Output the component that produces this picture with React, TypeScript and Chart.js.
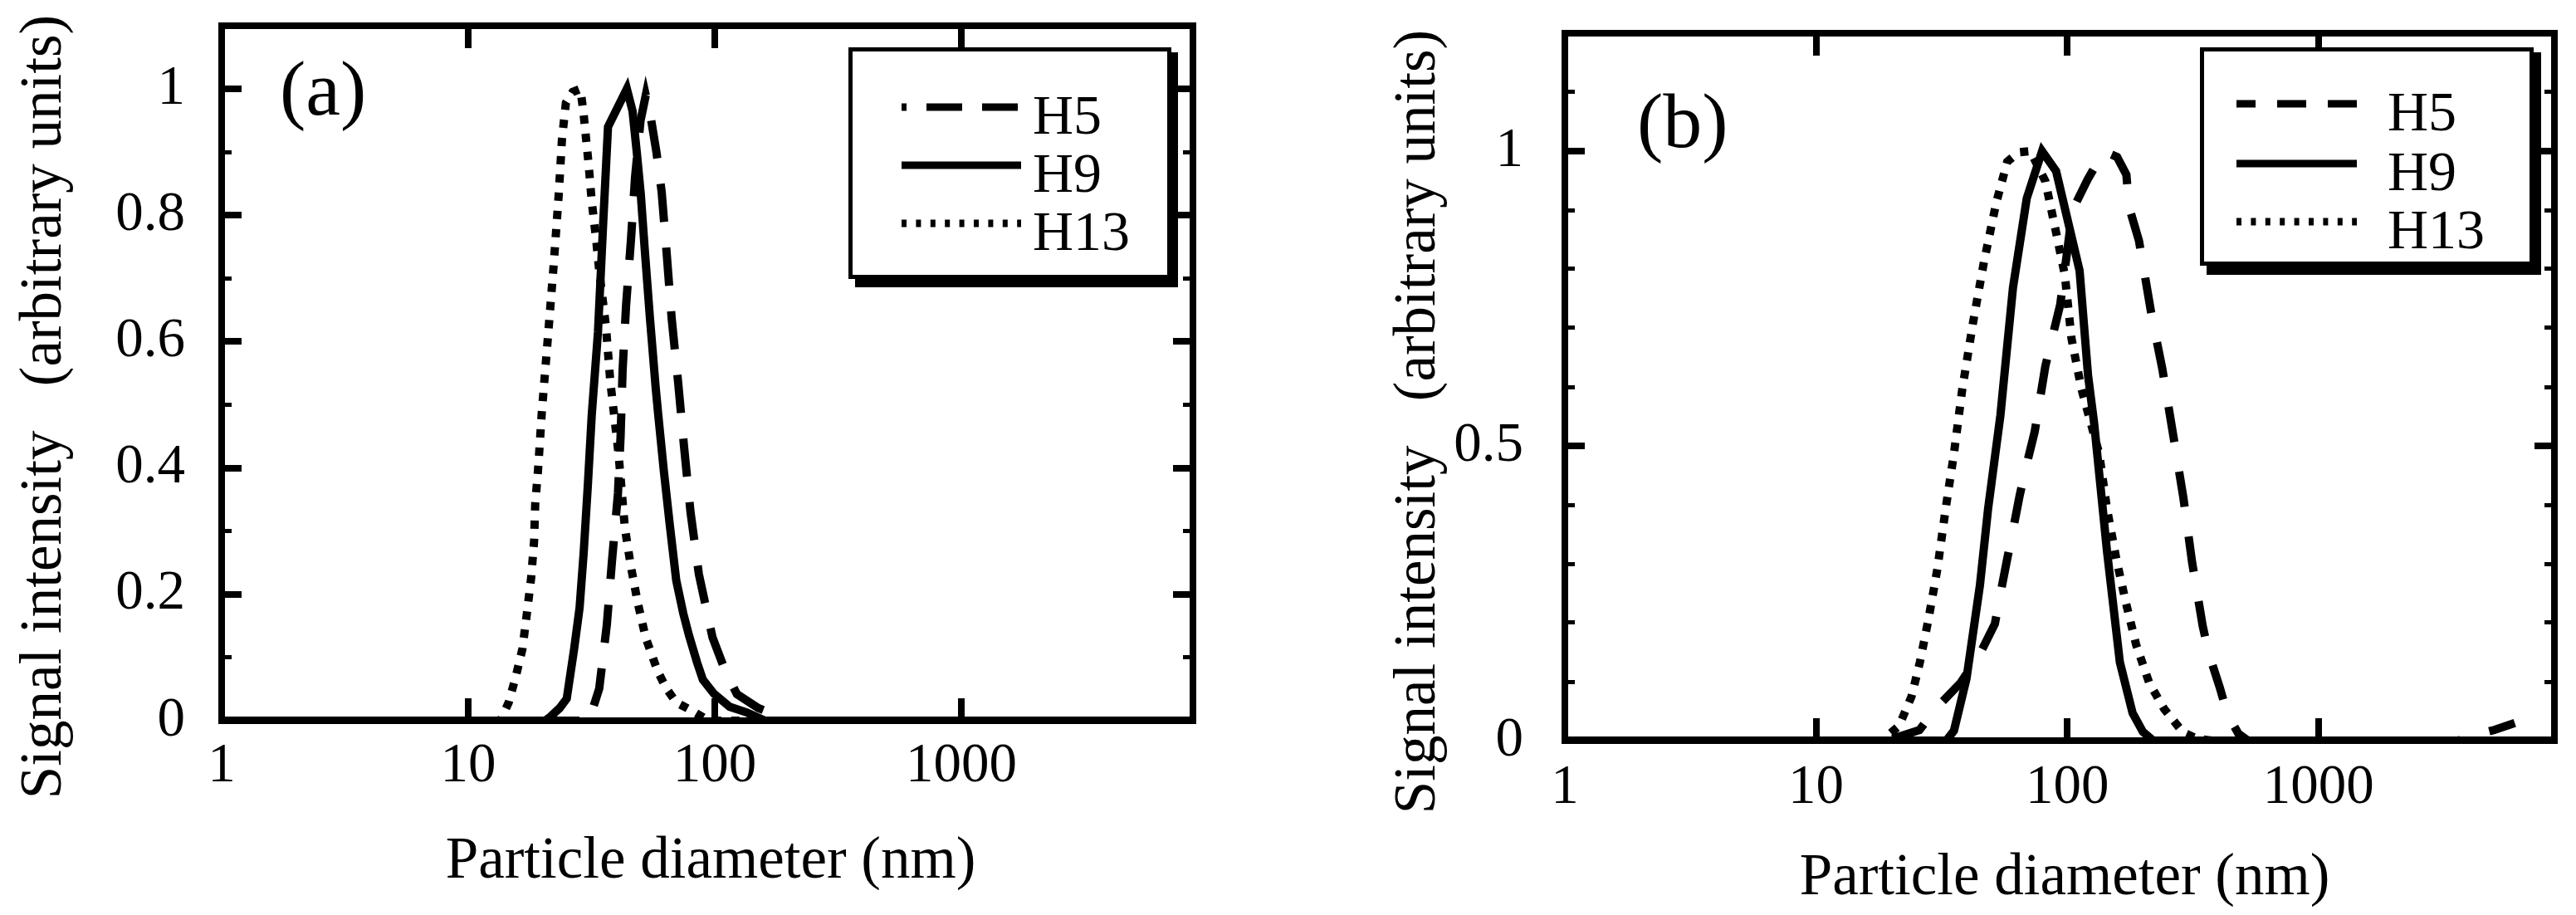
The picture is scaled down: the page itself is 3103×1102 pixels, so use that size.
import React, { useEffect, useRef } from 'react';
import { Chart, registerables } from 'chart.js';

Chart.register(...registerables);

// ---------- shared text / ticks ----------
const SERIES_LABELS = ['H5', 'H9', 'H13'];
const X_TITLE = 'Particle diameter (nm)';
const Y_TITLE = 'Signal intensity   (arbitrary units)';
const X_MIN = 1;
const X_MAX = 8700;
const X_TICKS = [1, 10, 100, 1000];
const X_TOP_TICKS = [10, 100, 1000];

// ---------- panel (a) data ----------
const A_H5_X = [1, 31, 32.2, 34.0, 36.5, 38.3, 40.5, 41.5, 42.3, 43.7, 45.7, 47.5, 50, 52.5, 55, 58, 60.9, 63.9, 66.9, 71.1, 75.1, 79.7, 86.2, 97.9, 110, 123, 150, 175, 195, 8700];
const A_H5_Y = [0, 0, 0.022, 0.051, 0.152, 0.253, 0.36, 0.45, 0.556, 0.658, 0.76, 0.86, 0.95, 0.99, 0.955, 0.9, 0.837, 0.737, 0.636, 0.534, 0.433, 0.331, 0.232, 0.132, 0.08, 0.042, 0.02, 0.01, 0, 0];
const A_H9_X = [1, 20.5, 21.5, 23.5, 25.1, 26.9, 28.3, 29.4, 30.6, 31.7, 33.6, 35.3, 36.9, 44, 46.4, 48.3, 50.1, 52.0, 54.6, 57.6, 59, 62.1, 65.7, 69.8, 74.5, 78.6, 84.8, 89.5, 99.1, 115, 135, 160, 8700];
const A_H9_Y = [0, 0, 0.006, 0.02, 0.035, 0.114, 0.179, 0.266, 0.376, 0.484, 0.615, 0.79, 0.94, 1.0, 0.965, 0.899, 0.834, 0.746, 0.637, 0.527, 0.484, 0.397, 0.31, 0.222, 0.17, 0.135, 0.092, 0.065, 0.043, 0.022, 0.013, 0, 0];
const A_H13_X = [1, 13.5, 14.6, 15.6, 16.6, 17.3, 18.0, 18.5, 18.7, 19.2, 19.9, 21.0, 22.2, 23.3, 24.0, 24.9, 26.5, 28.5, 29.3, 30.8, 31.7, 33.0, 34.1, 36.2, 37.7, 40.7, 43.2, 45.6, 48.7, 52.5, 58.6, 63.4, 69.8, 80.6, 90, 100, 8700];
const A_H13_Y = [0, 0, 0.029, 0.07, 0.114, 0.17, 0.226, 0.284, 0.344, 0.397, 0.49, 0.602, 0.72, 0.834, 0.92, 0.978, 0.995, 1.0, 0.965, 0.88, 0.822, 0.763, 0.707, 0.624, 0.537, 0.423, 0.305, 0.246, 0.187, 0.131, 0.079, 0.052, 0.029, 0.016, 0.005, 0, 0];
const A_Y_MAX = 1.1;
const A_Y_MAJOR = [0, 0.2, 0.4, 0.6, 0.8, 1];
const A_Y_LABELS = ['0', '0.2', '0.4', '0.6', '0.8', '1'];
const A_Y_MINOR = [0.1, 0.3, 0.5, 0.7, 0.9];

// ---------- panel (b) data ----------
const B_H5_X = [1, 19.1, 25.8, 29.9, 37.6, 44.9, 51.5, 54.2, 57.6, 60.8, 64.6, 68.7, 74.2, 81.8, 93.8, 105, 120.6, 140, 158, 172, 176, 193, 217, 239, 264, 290, 314, 346, 366, 405, 435, 480, 525, 3600, 4050, 5000, 6050];
const B_H5_Y = [0, 0, 0.018, 0.054, 0.098, 0.147, 0.198, 0.249, 0.307, 0.357, 0.415, 0.466, 0.524, 0.635, 0.74, 0.9, 0.952, 1.0, 0.99, 0.96, 0.906, 0.848, 0.72, 0.631, 0.519, 0.412, 0.303, 0.195, 0.148, 0.09, 0.044, 0.012, 0, 0, 0.008, 0.018, 0.03];
const B_H9_X = [1, 33, 35.4, 39.7, 44.9, 48.4, 54.2, 60.8, 69, 79.4, 90.3, 112, 121, 128, 144, 162, 182, 200, 220, 8700];
const B_H9_Y = [0, 0, 0.017, 0.105, 0.263, 0.393, 0.552, 0.768, 0.92, 1.0, 0.966, 0.797, 0.62, 0.538, 0.321, 0.133, 0.047, 0.015, 0, 0];
const B_H13_X = [1, 18.3, 21.4, 24.0, 25.9, 28.0, 30.4, 32.8, 35.4, 38.2, 42.2, 46.6, 52.2, 57.7, 64, 71.3, 81.8, 90.3, 97.8, 104, 114, 134, 144, 157, 171, 188, 212, 243, 289, 330, 380, 8700];
const B_H13_Y = [0, 0, 0.025, 0.075, 0.133, 0.205, 0.291, 0.393, 0.487, 0.596, 0.71, 0.812, 0.913, 0.982, 0.998, 1.0, 0.949, 0.862, 0.79, 0.682, 0.596, 0.487, 0.393, 0.307, 0.235, 0.163, 0.098, 0.054, 0.014, 0.003, 0, 0];
const B_Y_MAX = 1.2;
const B_Y_MAJOR = [0, 0.5, 1];
const B_Y_LABELS = ['0', '0.5', '1'];
const B_Y_MINOR = [0.1, 0.2, 0.3, 0.4, 0.6, 0.7, 0.8, 0.9, 1.1];

const SERIF = "'Liberation Serif', 'Times New Roman', serif";
const H = 1102;

type Panel = {
  tag: string;
  canvasX: number;
  canvasW: number;
  area: { left: number; right: number; top: number; bottom: number };
  series: { xs: number[]; ys: number[] }[];
  yMax: number;
  yMajor: number[];
  yLabels: string[];
  yMinor: number[];
  xLabelPad: number;
  yLabelPad: number;
  plotDash: number[][];
  tagPos: [number, number];
  tagSize: number;
  yTitlePos: [number, number];
  xTitlePos: [number, number];
  legend: {
    box: [number, number, number, number];
    shadow: [number, number, number, number];
    rows: number[];
    line: [number, number];
    textX: number;
    dashes: number[][];
    offsets: number[];
  };
};

const PANELS: Panel[] = [
  {
    tag: '(a)',
    canvasX: 0,
    canvasW: 1550,
    area: { left: 267, right: 1437, top: 31, bottom: 868 },
    series: [
      { xs: A_H5_X, ys: A_H5_Y },
      { xs: A_H9_X, ys: A_H9_Y },
      { xs: A_H13_X, ys: A_H13_Y },
    ],
    yMax: A_Y_MAX,
    yMajor: A_Y_MAJOR,
    yLabels: A_Y_LABELS,
    yMinor: A_Y_MINOR,
    xLabelPad: 42,
    yLabelPad: 68,
    plotDash: [[46, 31], [], [10, 12]],
    tagPos: [337, 138],
    tagSize: 94,
    yTitlePos: [73, 490],
    xTitlePos: [856, 1057],
    legend: {
      box: [1022, 57, 1411, 336],
      shadow: [1030, 63, 1419, 346],
      rows: [129, 199, 269],
      line: [1086, 1230],
      textX: 1244,
      dashes: [[43, 24], [], [6, 11.4]],
      offsets: [37, 0, 0],
    },
  },
  {
    tag: '(b)',
    canvasX: 1550,
    canvasW: 1553,
    area: { left: 1885, right: 3077, top: 40, bottom: 892 },
    series: [
      { xs: B_H5_X, ys: B_H5_Y },
      { xs: B_H9_X, ys: B_H9_Y },
      { xs: B_H13_X, ys: B_H13_Y },
    ],
    yMax: B_Y_MAX,
    yMajor: B_Y_MAJOR,
    yLabels: B_Y_LABELS,
    yMinor: B_Y_MINOR,
    xLabelPad: 44,
    yLabelPad: 74,
    plotDash: [[43, 36], [], [10, 12]],
    tagPos: [1972, 177],
    tagSize: 94,
    yTitlePos: [1728, 508],
    xTitlePos: [2487, 1077],
    legend: {
      box: [2650, 57, 3052, 320],
      shadow: [2658, 63, 3061, 331],
      rows: [125, 197, 267],
      line: [2694, 2839],
      textX: 2876,
      dashes: [[35, 26], [], [6, 11.4]],
      offsets: [12, 0, 0],
    },
  },
];

function decorPlugin(p: Panel) {
  return {
    id: 'decor',
    afterDraw(chart: any) {
      const ctx: CanvasRenderingContext2D = chart.ctx;
      const ox = p.canvasX;
      ctx.save();
      ctx.fillStyle = '#000';
      // panel tag
      ctx.font = `${p.tagSize}px ${SERIF}`;
      ctx.textAlign = 'left';
      ctx.textBaseline = 'alphabetic';
      ctx.fillText(p.tag, p.tagPos[0] - ox, p.tagPos[1]);
      // axis titles
      ctx.font = `71px ${SERIF}`;
      ctx.textAlign = 'center';
      ctx.fillText(X_TITLE, p.xTitlePos[0] - ox, p.xTitlePos[1]);
      ctx.save();
      ctx.translate(p.yTitlePos[0] - ox, p.yTitlePos[1]);
      ctx.rotate(-Math.PI / 2);
      ctx.fillText(Y_TITLE, 0, 0);
      ctx.restore();
      // legend
      const L = p.legend;
      const [bx0, by0, bx1, by1] = L.box;
      const [sx0, sy0, sx1, sy1] = L.shadow;
      ctx.fillStyle = '#000';
      ctx.fillRect(sx0 - ox, sy0, sx1 - sx0, sy1 - sy0);
      ctx.fillStyle = '#fff';
      ctx.fillRect(bx0 - ox, by0, bx1 - bx0, by1 - by0);
      ctx.strokeStyle = '#000';
      ctx.lineWidth = 5;
      ctx.strokeRect(bx0 + 2.5 - ox, by0 + 2.5, bx1 - bx0 - 5, by1 - by0 - 5);
      chart.data.datasets.forEach((ds: any, i: number) => {
        const y = L.rows[i];
        ctx.save();
        ctx.strokeStyle = '#000';
        ctx.lineWidth = 9;
        ctx.lineCap = 'butt';
        ctx.setLineDash(L.dashes[i]);
        ctx.lineDashOffset = L.offsets[i];
        ctx.beginPath();
        ctx.moveTo(L.line[0] - ox, y);
        ctx.lineTo(L.line[1] - ox, y);
        ctx.stroke();
        ctx.restore();
        ctx.fillStyle = '#000';
        ctx.font = `68px ${SERIF}`;
        ctx.textAlign = 'left';
        ctx.textBaseline = 'alphabetic';
        ctx.fillText(ds.label, L.textX - ox, y + 32);
      });
      ctx.restore();
    },
  };
}

function buildConfig(p: Panel): any {
  const W = p.canvasW;
  const leftW = p.area.left - p.canvasX;
  const rightPad = W - (p.area.right - p.canvasX);
  const bottomH = H - p.area.bottom;
  const setTicks = (vals: number[]) => (s: any) => {
    s.ticks = vals.map((v) => ({ value: v }));
  };
  const fitTo = (w: number | null, h: number | null) => (s: any) => {
    if (w !== null) s.width = w;
    if (h !== null) s.height = h;
    s.paddingLeft = 0;
    s.paddingRight = 0;
    s.paddingTop = 0;
    s.paddingBottom = 0;
  };
  const grid = (len: number, w: number) => ({
    display: true,
    drawOnChartArea: false,
    drawTicks: true,
    tickLength: -len,
    tickWidth: w,
    tickColor: '#000',
    color: '#000',
    lineWidth: w,
  });
  const noBorder = { display: false };
  const border = { display: true, color: '#000', width: 8 };
  const tickFont = { family: SERIF, size: 67 };

  return {
    type: 'line',
    data: {
      datasets: p.series.map((s, i) => ({
        label: SERIES_LABELS[i],
        data: s.xs.map((x, j) => ({ x, y: s.ys[j] })),
        borderColor: '#000',
        backgroundColor: '#000',
        borderWidth: 10,
        borderDash: p.plotDash[i],
        borderCapStyle: 'butt',
        borderJoinStyle: 'miter',
        pointRadius: 0,
        tension: 0,
        fill: false,
        xAxisID: 'x',
        yAxisID: 'y',
      })),
    },
    options: {
      responsive: false,
      animation: false,
      events: [],
      layout: { padding: { left: 0, top: p.area.top, right: rightPad, bottom: 0 } },
      plugins: { legend: { display: false }, tooltip: { enabled: false }, title: { display: false } },
      scales: {
        x: {
          type: 'logarithmic',
          position: 'bottom',
          min: X_MIN,
          max: X_MAX,
          afterBuildTicks: setTicks(X_TICKS),
          afterFit: fitTo(null, bottomH),
          ticks: {
            autoSkip: false,
            maxRotation: 0,
            minRotation: 0,
            padding: p.xLabelPad,
            color: '#000',
            font: tickFont,
            callback: (v: any) => String(v),
          },
          grid: grid(27, 8),
          border,
        },
        xTop: {
          type: 'logarithmic',
          position: 'top',
          min: X_MIN,
          max: X_MAX,
          afterBuildTicks: setTicks(X_TOP_TICKS),
          afterFit: fitTo(null, 0),
          ticks: { display: false },
          grid: grid(27, 8),
          border,
        },
        y: {
          type: 'linear',
          position: 'left',
          min: 0,
          max: p.yMax,
          afterBuildTicks: setTicks(p.yMajor),
          afterFit: fitTo(leftW, null),
          ticks: {
            padding: p.yLabelPad,
            color: '#000',
            font: tickFont,
            callback: (v: any) => {
              const k = p.yMajor.findIndex((m) => Math.abs(m - v) < 1e-9);
              return k >= 0 ? p.yLabels[k] : '';
            },
          },
          grid: grid(24, 8),
          border,
        },
        yMinor: {
          type: 'linear',
          position: 'left',
          weight: -1,
          min: 0,
          max: p.yMax,
          afterBuildTicks: setTicks(p.yMinor),
          afterFit: fitTo(0, null),
          ticks: { display: false },
          grid: grid(12, 5),
          border: noBorder,
        },
        yRight: {
          type: 'linear',
          position: 'right',
          min: 0,
          max: p.yMax,
          afterBuildTicks: setTicks(p.yMajor),
          afterFit: fitTo(0, null),
          ticks: { display: false },
          grid: grid(24, 8),
          border,
        },
        yRightMinor: {
          type: 'linear',
          position: 'right',
          weight: 1,
          min: 0,
          max: p.yMax,
          afterBuildTicks: setTicks(p.yMinor),
          afterFit: fitTo(0, null),
          ticks: { display: false },
          grid: grid(12, 5),
          border: noBorder,
        },
      },
    },
    plugins: [decorPlugin(p)],
  };
}

function PanelChart({ p }: { p: Panel }) {
  const ref = useRef<HTMLCanvasElement | null>(null);
  useEffect(() => {
    if (!ref.current) return;
    const chart = new Chart(ref.current, buildConfig(p));
    return () => chart.destroy();
  }, [p]);
  return (
    <canvas
      ref={ref}
      width={p.canvasW}
      height={H}
      style={{ position: 'absolute', left: p.canvasX, top: 0, width: p.canvasW, height: H, display: 'block' }}
    />
  );
}

export default function App() {
  return (
    <div style={{ position: 'absolute', left: 0, top: 0, width: 3103, height: H, background: '#fff', overflow: 'hidden' }}>
      {PANELS.map((p) => (
        <PanelChart key={p.tag} p={p} />
      ))}
    </div>
  );
}
